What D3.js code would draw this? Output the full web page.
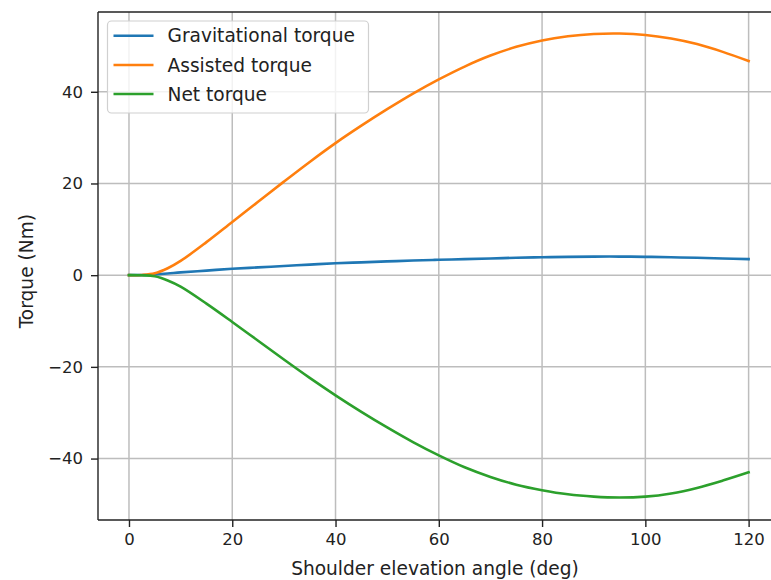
<!DOCTYPE html>
<html>
<head>
<meta charset="utf-8">
<script src="https://cdn.jsdelivr.net/npm/d3@7"></script>
<style>
  html, body { margin: 0; padding: 0; background: #fff; }
  svg { display: block; font-family: "DejaVu Sans", sans-serif; }
</style>
</head>
<body>
<svg id="chart" width="771" height="580"></svg>
<script>
// ---- data ----
const angles = [0, 2.5, 5, 7.5, 10, 15, 20, 25, 30, 35, 40, 45, 50, 55, 60, 65, 70, 75, 80, 85, 90, 95, 100, 105, 110, 115, 120];
const gravitational = [0, 0.02, 0.15, 0.35, 0.6, 1.0, 1.4, 1.7, 2.0, 2.3, 2.6, 2.8, 3.0, 3.2, 3.35, 3.5, 3.65, 3.8, 3.9, 4.0, 4.05, 4.05, 4.0, 3.9, 3.8, 3.65, 3.5];
const assisted = [0, 0.05, 0.4, 1.5, 3.1, 7.2, 11.6, 16.0, 20.4, 24.7, 28.8, 32.6, 36.2, 39.6, 42.7, 45.5, 47.9, 49.8, 51.2, 52.1, 52.6, 52.7, 52.4, 51.6, 50.4, 48.7, 46.7];
const net = [0, -0.03, -0.25, -1.15, -2.5, -6.2, -10.2, -14.3, -18.4, -22.4, -26.2, -29.8, -33.2, -36.4, -39.3, -41.9, -44.0, -45.7, -46.9, -47.8, -48.3, -48.5, -48.3, -47.6, -46.4, -44.8, -43.0];
const seriesNames = ["Gravitational torque", "Assisted torque", "Net torque"];
const seriesColors = ["#1f77b4", "#ff7f0e", "#2ca02c"];
const xTicks = [0, 20, 40, 60, 80, 100, 120];
const yTicks = [-40, -20, 0, 20, 40];
const xLabel = "Shoulder elevation angle (deg)";
const yLabel = "Torque (Nm)";

(function () {
// ---- layout ----
const svg = d3.select("#chart");
const pL = 98, pT = 12, pR = 779.6, pB = 520;

const x = d3.scaleLinear().domain([-6, 126]).range([pL, pR]);
const y = d3.scaleLinear().domain([-53.4, 57.4]).range([pB, pT]);

svg.append("defs").append("clipPath").attr("id", "plotclip")
  .append("rect").attr("x", pL).attr("y", pT)
  .attr("width", pR - pL).attr("height", pB - pT);

// grid
const grid = svg.append("g");
grid.selectAll("line.vx").data(xTicks).join("line")
  .attr("x1", d => x(d)).attr("x2", d => x(d))
  .attr("y1", pT).attr("y2", pB)
  .attr("stroke", "#bdbdbd").attr("stroke-width", 1.5);
grid.selectAll("line.hy").data(yTicks).join("line")
  .attr("x1", pL).attr("x2", pR)
  .attr("y1", d => y(d)).attr("y2", d => y(d))
  .attr("stroke", "#bdbdbd").attr("stroke-width", 1.5);

// lines
const seriesData = [gravitational, assisted, net];
const line = d3.line()
  .x((d, i) => x(angles[i]))
  .y(d => y(d))
  .curve(d3.curveCatmullRom.alpha(0.5));

const lines = svg.append("g").attr("clip-path", "url(#plotclip)");
seriesData.forEach((s, k) => {
  lines.append("path").datum(s)
    .attr("d", line)
    .attr("fill", "none")
    .attr("stroke", seriesColors[k])
    .attr("stroke-width", 2.6)
    .attr("stroke-linejoin", "round")
    .attr("stroke-linecap", "square");
});

// axes
const fmt = d => (d < 0 ? "\u2212" + Math.abs(d) : String(d));
const xAxis = svg.append("g").attr("transform", `translate(0,${pB})`)
  .call(d3.axisBottom(x).tickValues(xTicks).tickFormat(fmt).tickSize(7).tickPadding(6));
const yAxis = svg.append("g").attr("transform", `translate(${pL},0)`)
  .call(d3.axisLeft(y).tickValues(yTicks).tickFormat(fmt).tickSize(7).tickPadding(8));

[xAxis, yAxis].forEach(a => {
  a.select(".domain").remove();
  a.selectAll(".tick line").attr("stroke", "#222").attr("stroke-width", 1.4);
  a.selectAll(".tick text").attr("fill", "#222")
    .style("font-family", "'DejaVu Sans', sans-serif").style("font-size", "16.5px");
});

// spines
const spine = (x1, y1, x2, y2) => svg.append("line")
  .attr("x1", x1).attr("y1", y1).attr("x2", x2).attr("y2", y2)
  .attr("stroke", "#222").attr("stroke-width", 1.4);
spine(pL, pT, pL, pB);
spine(pL, pB, pR, pB);
spine(pL, pT, pR, pT);
spine(pR, pT, pR, pB);

// axis labels
svg.append("text").attr("x", 435).attr("y", 568).attr("dy", "0.35em")
  .attr("text-anchor", "middle").attr("fill", "#222")
  .style("font-size", "18.6px").text(xLabel);
svg.append("text")
  .attr("transform", `translate(26,${y(0) - 4}) rotate(-90)`)
  .attr("dy", "0.35em")
  .attr("text-anchor", "middle").attr("fill", "#222")
  .style("font-size", "18.6px").text(yLabel);

// legend
const lg = svg.append("g");
lg.append("rect").attr("x", 107.5).attr("y", 21).attr("width", 261).attr("height", 92)
  .attr("rx", 4).attr("fill", "#fff").attr("fill-opacity", 0.8)
  .attr("stroke", "#d0d0d0").attr("stroke-width", 1.2);
const rowY = [35.7, 65, 94];
seriesNames.forEach((n, k) => {
  lg.append("line").attr("x1", 113.5).attr("x2", 153.5)
    .attr("y1", rowY[k]).attr("y2", rowY[k])
    .attr("stroke", seriesColors[k]).attr("stroke-width", 2.6);
  lg.append("text").attr("x", 167.5).attr("y", rowY[k]).attr("dy", "0.35em")
    .attr("fill", "#222").style("font-size", "18.6px").text(n);
});
})();
</script>
</body>
</html>
